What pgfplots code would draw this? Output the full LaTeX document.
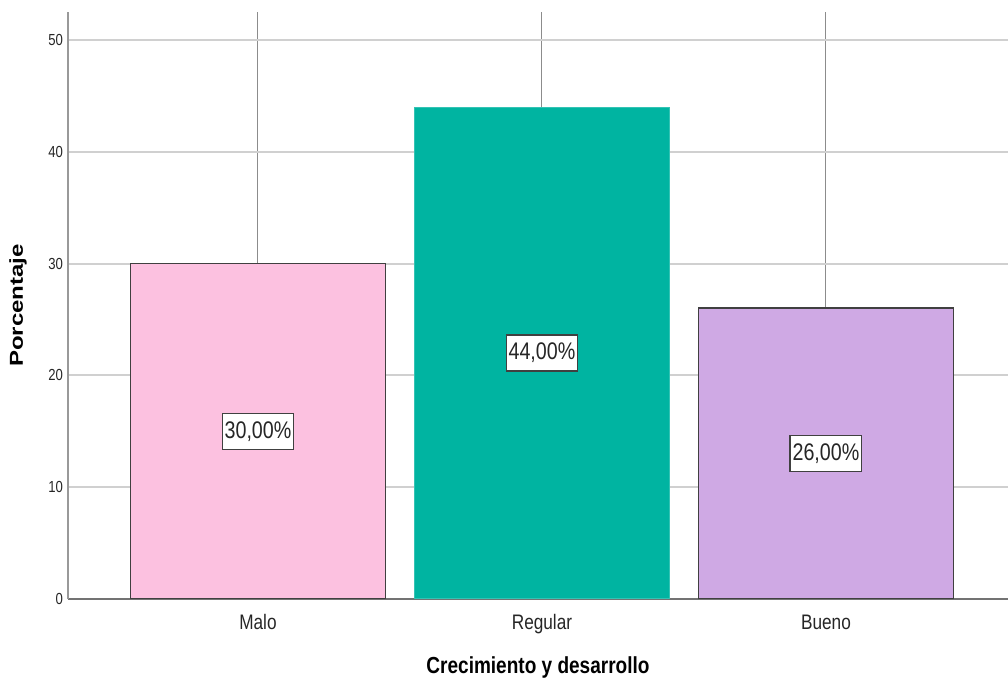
\documentclass[border=0pt]{standalone}
\usepackage{fontspec}
\setmainfont[FakeStretch=0.82]{Liberation Sans}
\newfontfamily\plainfont{Liberation Sans}
\usepackage{pgfplots}
\pgfplotsset{compat=1.18}
\definecolor{cpink}{RGB}{252,193,224}
\definecolor{cteal}{RGB}{0,180,161}
\definecolor{cpurple}{RGB}{207,169,228}
\definecolor{gridlight}{RGB}{208,208,208}
\definecolor{griddark}{RGB}{140,140,140}
\begin{document}
\begin{tikzpicture}
\begin{axis}[
  scale only axis,
  width=470pt, height=293.5pt,
  xmin=-0.669, xmax=2.641,
  ymin=0, ymax=52.5,
  axis x line*=bottom, axis y line*=left,
  x axis line style={draw=black!55, line width=1pt, -},
  y axis line style={draw=black!40, line width=0.8pt, -},
  xtick={0,1,2},
  xticklabels={Malo,Regular,Bueno},
  ytick={0,10,20,30,40,50},
  major tick length=0pt,
  xmajorgrids, ymajorgrids,
  x grid style={draw=griddark, line width=0.5pt},
  y grid style={draw=gridlight, line width=1pt},
  xticklabel style={font=\fontsize{10.5}{12}\selectfont, anchor=base, yshift=-15.5pt, text=black!85},
  yticklabel style={font=\fontsize{8}{9}\selectfont, anchor=east, xshift=1pt, text=black!85},
  /pgf/number format/assume math mode=true,
  xlabel={\bfseries\fontsize{11.6}{13}\selectfont Crecimiento y desarrollo},
  xlabel style={at={(axis description cs:0.5,-0.1175)}, anchor=center},
  ylabel={\scalebox{1}[0.78]{\plainfont\bfseries\fontsize{12}{14}\selectfont Porcentaje}},
  ylabel style={at={(axis description cs:-0.0532,0.5)}, anchor=center},
]
\addplot[ybar, bar width=0.898, bar shift=0pt, fill=cpink, draw=black!75, line width=0.9pt] coordinates {(0,30)};
\addplot[ybar, bar width=0.898, bar shift=0pt, fill=cteal, draw=cteal!80!white, line width=0.5pt] coordinates {(1,44)};
\addplot[ybar, bar width=0.898, bar shift=0pt, fill=cpurple, draw=black!75, line width=0.9pt] coordinates {(2,26)};
\addplot[only marks, mark=none, nodes near coords, point meta=explicit symbolic,
  nodes near coords style={anchor=center, draw=black!75, line width=0.7pt, fill=white,
    inner xsep=1.2pt, inner ysep=0pt, minimum height=18pt, font=\fontsize{12}{14}\selectfont, text=black!85}]
  coordinates {(0,15) [30,00\%] (1,22) [44,00\%] (2,13) [26,00\%]};
\end{axis}
\pgfresetboundingbox
\path ([xshift=-34pt,yshift=-42.5pt]current axis.south west) rectangle ([yshift=6pt]current axis.north east);
\end{tikzpicture}
\end{document}
